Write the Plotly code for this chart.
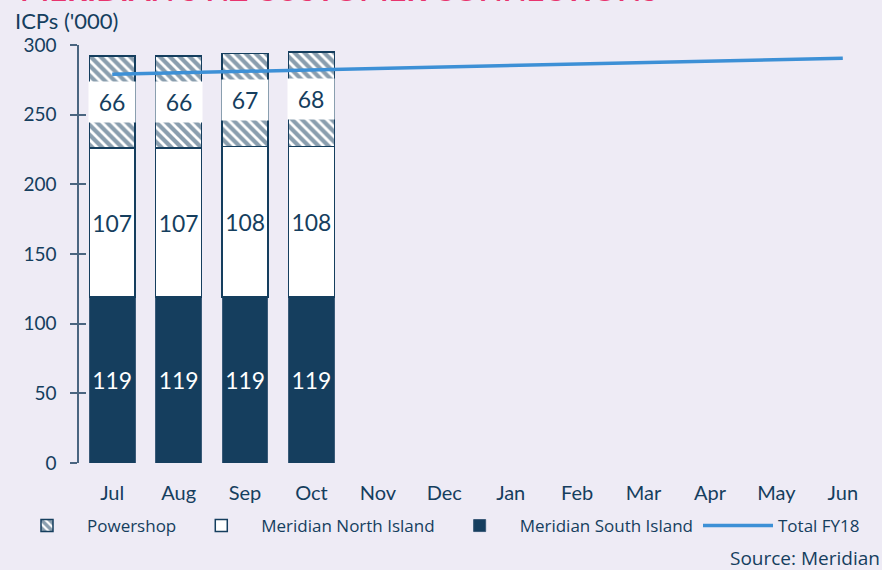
import plotly.graph_objects as go

months = ["Jul", "Aug", "Sep", "Oct", "Nov", "Dec", "Jan", "Feb", "Mar", "Apr", "May", "Jun"]
bar_months = ["Jul", "Aug", "Sep", "Oct"]
south_island = [119, 119, 119, 119]
north_island = [107, 107, 108, 108]
powershop = [66, 66, 67, 68]
total_fy18 = [279, 280, 281, 282, 283, 284, 285, 286, 287.5, 288.5, 289.5, 290.5]

NAVY = "#153e5e"
BG = "#eeebf5"
LINE = "#3d90d6"
PINK = "#e8336e"
FONT = "Lato, Open Sans, sans-serif"
LEG_FONT = "Open Sans, Roboto, sans-serif"

L, R, T, B, W, H = 79, 6, 45, 107, 882, 570
PW, PH = W - L - R, H - T - B


def px(xpix):
    return (xpix - L) / PW


def py(ypix):
    return (H - B - ypix) / PH


fig = go.Figure()
fig.add_trace(go.Bar(
    x=bar_months, y=south_island, name="Meridian South Island",
    marker=dict(color=NAVY, line=dict(color="#3a5a78", width=1)),
    text=[str(v) for v in south_island], textposition="inside", insidetextanchor="middle",
    textangle=0, textfont=dict(color="white", size=23, family=FONT),
    legendrank=3,
))
fig.add_trace(go.Bar(
    x=bar_months, y=north_island, name="Meridian North Island",
    marker=dict(color="white", line=dict(color=NAVY, width=1.5)),
    text=[str(v) for v in north_island], textposition="inside", insidetextanchor="middle",
    textangle=0, textfont=dict(color=NAVY, size=23, family=FONT),
    legendrank=2,
))
fig.add_trace(go.Bar(
    x=bar_months, y=powershop, name="Powershop",
    marker=dict(color="white", line=dict(color=NAVY, width=1.5),
                pattern=dict(shape="\\", fgcolor=NAVY, bgcolor="white", size=7, solidity=0.6)),
    legendrank=1,
))
fig.add_trace(go.Scatter(
    x=months, y=total_fy18, name="Total FY18", mode="lines",
    line=dict(color=LINE, width=3.5), legendrank=4,
))

# Powershop value labels on white boxes
for m, s, n, p in zip(bar_months, south_island, north_island, powershop):
    fig.add_annotation(x=m, y=s + n + p / 2, text=str(p), showarrow=False,
                       bgcolor="white", width=44, height=38,
                       font=dict(color=NAVY, size=23, family=FONT))

fig.add_annotation(xref="paper", yref="paper", x=px(13), y=py(20), xanchor="left",
                   yanchor="middle", text="ICPs ('000)", showarrow=False,
                   font=dict(color=NAVY, size=22, family=FONT))
fig.add_annotation(xref="paper", yref="paper", x=px(18), y=py(10), xanchor="left",
                   yanchor="bottom", text="<b>MERIDIAN'S NZ CUSTOMER CONNECTIONS</b>", showarrow=False,
                   font=dict(color=PINK, size=31, family=FONT))
fig.add_annotation(xref="paper", yref="paper", x=px(882), y=py(558), xanchor="right",
                   yanchor="middle", text="Source: Meridian", showarrow=False,
                   font=dict(color=NAVY, size=19, family=LEG_FONT))

fig.update_layout(
    width=W, height=H,
    paper_bgcolor=BG, plot_bgcolor=BG,
    barmode="stack", bargap=0.31,
    margin=dict(l=L, r=R, t=T, b=B),
    font=dict(family=FONT, color=NAVY),
    showlegend=True,
    legend=dict(orientation="h", xref="paper", yref="paper", x=px(7), y=py(526),
                xanchor="left", yanchor="middle", font=dict(size=17, family=LEG_FONT, color=NAVY),
                bgcolor="rgba(0,0,0,0)", traceorder="normal", itemwidth=70),
    xaxis=dict(categoryorder="array", categoryarray=months, range=[-0.5, 11.5],
               showline=False, showgrid=False, zeroline=False, ticks="",
               tickfont=dict(size=20, color=NAVY, family=FONT), ticklabelstandoff=16),
    yaxis=dict(range=[0, 300], tickvals=[0, 50, 100, 150, 200, 250, 300],
               showgrid=False, zeroline=False, showline=True, linecolor="#4a6580", linewidth=1.5,
               ticks="outside", ticklen=7, tickwidth=1.5, tickcolor="#4a6580",
               tickfont=dict(size=19, color=NAVY, family=FONT), ticklabelstandoff=10),
    yaxis2=dict(range=[0, 300], overlaying="y", matches="y", tickvals=[0, 50, 100, 150, 200, 250, 300],
                showgrid=False, zeroline=False, showline=False, showticklabels=False,
                ticks="inside", ticklen=7, tickwidth=1.5, tickcolor="#4a6580", side="left"),
)
fig.add_trace(go.Scatter(x=months[:1], y=[0], yaxis="y2", mode="markers",
                         marker=dict(opacity=0), showlegend=False, hoverinfo="skip"))

fig.write_html("out.html", config={"displayModeBar": False},
               post_script="document.body.style.margin='0px';")
